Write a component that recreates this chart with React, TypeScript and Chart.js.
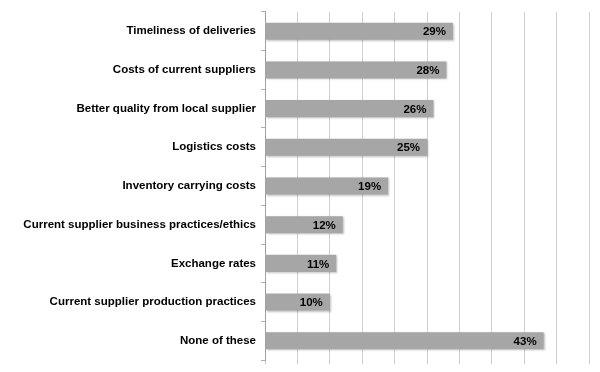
import React, { useEffect, useRef } from "react";
import { Chart, registerables } from "chart.js";

Chart.register(...registerables);

const categories = [
  "Timeliness of deliveries",
  "Costs of current suppliers",
  "Better quality from local supplier",
  "Logistics costs",
  "Inventory carrying costs",
  "Current supplier business practices/ethics",
  "Exchange rates",
  "Current supplier production practices",
  "None of these",
];
const values = [29, 28, 26, 25, 19, 12, 11, 10, 43];
const axisMax = 50;
const axisStep = 5;

const FONT = "'Liberation Sans', Arial, sans-serif";

const shadowPlugin = {
  id: "barShadow",
  beforeDatasetsDraw(chart: any) {
    const ctx = chart.ctx;
    ctx.save();
    ctx.shadowColor = "rgba(0,0,0,0.25)";
    ctx.shadowBlur = 2;
    ctx.shadowOffsetX = 1;
    ctx.shadowOffsetY = 1;
  },
  afterDatasetsDraw(chart: any) {
    const ctx = chart.ctx;
    ctx.restore();
    const meta = chart.getDatasetMeta(0);
    ctx.save();
    ctx.font = `bold 11.5px ${FONT}`;
    ctx.fillStyle = "#000";
    ctx.textAlign = "right";
    ctx.textBaseline = "middle";
    meta.data.forEach((bar: any, i: number) => {
      ctx.fillText(values[i] + "%", bar.x - 7, bar.y + 1);
    });
    ctx.restore();
  },
};

export default function App() {
  const ref = useRef<HTMLCanvasElement>(null);
  useEffect(() => {
    if (!ref.current) return;
    const chart = new Chart(ref.current, {
      type: "bar",
      data: {
        labels: categories,
        datasets: [
          {
            data: values,
            backgroundColor: "#a6a6a6",
            borderWidth: 0,
            barPercentage: 0.44,
            categoryPercentage: 1,
          },
        ],
      },
      options: {
        indexAxis: "y",
        animation: false,
        responsive: false,
        maintainAspectRatio: false,
        layout: { padding: { top: 10, right: 11, bottom: 7, left: 0 } },
        plugins: { legend: { display: false }, tooltip: { enabled: false } },
        scales: {
          x: {
            min: 0,
            max: axisMax,
            ticks: { display: false, stepSize: axisStep },
            grid: {
              color: "#d0d0d0",
              lineWidth: 1,
              drawTicks: true,
              tickLength: 4,
              tickColor: "#c8c8c8",
            },
            border: { display: false },
          },
          y: {
            afterFit(scale: any) {
              scale.width = 265;
            },
            ticks: {
              color: "#000",
              font: { family: FONT, size: 11.5, weight: "bold" },
              padding: 5,
              autoSkip: false,
            },
            grid: {
              drawOnChartArea: false,
              drawTicks: true,
              tickLength: 4,
              tickColor: "#b0b0b0",
              offset: true,
            },
            border: { display: true, color: "#a0a0a0" },
          },
        },
      },
      plugins: [shadowPlugin],
    });
    return () => chart.destroy();
  }, []);
  return (
    <div style={{ position: "absolute", left: 0, top: 0, width: 600, height: 372, background: "#fff" }}>
      <canvas ref={ref} width={600} height={372} style={{ display: "block" }} />
    </div>
  );
}
